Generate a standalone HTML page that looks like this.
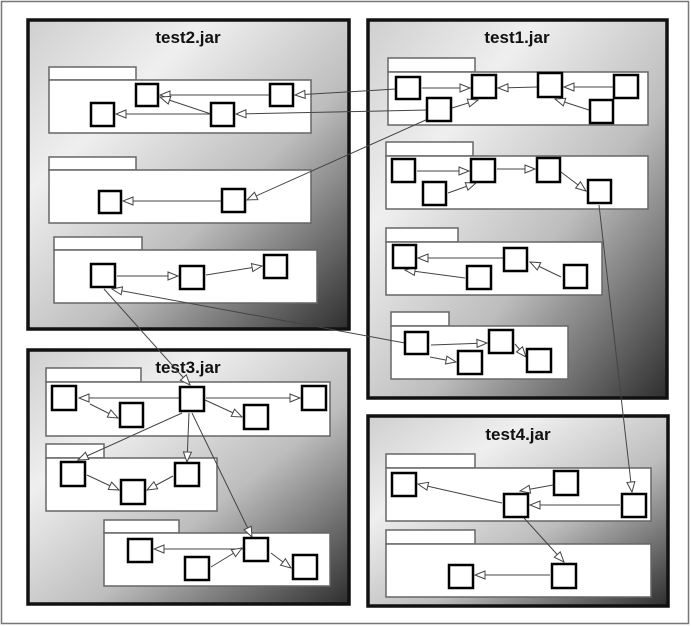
<!DOCTYPE html>
<html><head><meta charset="utf-8"><style>
html,body{margin:0;padding:0;background:#fff;width:691px;height:626px;overflow:hidden}
svg{display:block}
text{font-family:"Liberation Sans",sans-serif;font-weight:bold;font-size:17px;fill:#111}
</style></head><body>
<svg width="691" height="626" viewBox="0 0 691 626" xmlns="http://www.w3.org/2000/svg">
<defs>
<linearGradient id="g" x1="0" y1="0" x2="1" y2="1">
<stop offset="0" stop-color="#cfcfcf"/>
<stop offset="0.28" stop-color="#efefef"/>
<stop offset="0.6" stop-color="#bdbdbd"/>
<stop offset="1" stop-color="#2e2e2e"/>
</linearGradient>
<marker id="a" markerWidth="12" markerHeight="10" refX="11" refY="5" orient="auto" markerUnits="userSpaceOnUse">
<path d="M1,1 L11,5 L1,9 Z" fill="#fff" stroke="#444" stroke-width="1"/>
</marker>
</defs>
<rect x="1.5" y="1.5" width="687" height="622" fill="#fff" stroke="#777" stroke-width="1.5"/>
<g stroke="#111" stroke-width="3.5" fill="url(#g)">
<rect x="28" y="20" width="321" height="309"/>
<rect x="368" y="20" width="299" height="378"/>
<rect x="28" y="350" width="321" height="254"/>
<rect x="368" y="416" width="300" height="190"/>
</g>
<text x="188" y="43" text-anchor="middle">test2.jar</text>
<text x="517" y="43" text-anchor="middle">test1.jar</text>
<text x="188" y="373" text-anchor="middle">test3.jar</text>
<text x="518" y="440" text-anchor="middle">test4.jar</text>
<g fill="#fff" stroke="#666" stroke-width="1.5">
<rect x="49" y="67" width="87" height="13"/><rect x="49" y="80" width="262" height="53"/>
<rect x="49" y="157" width="87" height="13"/><rect x="49" y="170" width="262" height="53"/>
<rect x="54" y="237" width="88" height="13"/><rect x="54" y="250" width="263" height="53"/>
<rect x="388" y="58" width="87" height="14"/><rect x="388" y="72" width="260" height="53"/>
<rect x="386" y="142" width="87" height="14"/><rect x="386" y="156" width="262" height="53"/>
<rect x="386" y="228" width="72" height="14"/><rect x="386" y="242" width="216" height="53"/>
<rect x="391" y="312" width="58" height="14"/><rect x="391" y="326" width="177" height="53"/>
<rect x="46" y="368" width="95" height="14"/><rect x="46" y="382" width="284" height="54"/>
<rect x="46" y="444" width="58" height="14"/><rect x="46" y="458" width="171" height="53"/>
<rect x="104" y="520" width="75" height="13"/><rect x="104" y="533" width="226" height="53"/>
<rect x="386" y="454" width="89" height="14"/><rect x="386" y="468" width="265" height="53"/>
<rect x="386" y="530" width="89" height="14"/><rect x="386" y="544" width="265" height="53"/>
</g>
<g stroke="#444" stroke-width="1" fill="none" marker-end="url(#a)">
<line x1="270" y1="95" x2="160" y2="95"/>
<line x1="211" y1="114" x2="160" y2="97"/>
<line x1="211" y1="114" x2="116" y2="114"/>
<line x1="396" y1="89" x2="295" y2="95"/>
<line x1="427" y1="110" x2="236" y2="114"/>
<line x1="428" y1="119" x2="247" y2="200"/>
<line x1="222" y1="201" x2="123" y2="201"/>
<line x1="117" y1="276" x2="178" y2="276"/>
<line x1="206" y1="275" x2="262" y2="266"/>
<line x1="405" y1="343" x2="112" y2="289"/>
<line x1="104" y1="289" x2="190" y2="385"/>
<line x1="422" y1="88" x2="470" y2="88"/>
<line x1="452" y1="108" x2="478" y2="100"/>
<line x1="538" y1="87" x2="498" y2="88"/>
<line x1="614" y1="87" x2="564" y2="87"/>
<line x1="589" y1="110" x2="555" y2="99"/>
<line x1="417" y1="171" x2="469" y2="171"/>
<line x1="448" y1="193" x2="476" y2="183"/>
<line x1="497" y1="169" x2="535" y2="169"/>
<line x1="561" y1="172" x2="586" y2="191"/>
<line x1="599" y1="205" x2="632" y2="492"/>
<line x1="504" y1="258" x2="418" y2="258"/>
<line x1="465" y1="278" x2="405" y2="270"/>
<line x1="561" y1="277" x2="530" y2="262"/>
<line x1="431" y1="345" x2="487" y2="343"/>
<line x1="430" y1="357" x2="456" y2="362"/>
<line x1="515" y1="344" x2="526" y2="357"/>
<line x1="179" y1="398" x2="79" y2="398"/>
<line x1="90" y1="404" x2="118" y2="418"/>
<line x1="206" y1="398" x2="300" y2="398"/>
<line x1="205" y1="400" x2="242" y2="417"/>
<line x1="182" y1="413" x2="78" y2="460"/>
<line x1="189" y1="413" x2="187" y2="462"/>
<line x1="192" y1="413" x2="252" y2="537"/>
<line x1="87" y1="475" x2="119" y2="490"/>
<line x1="173" y1="476" x2="147" y2="490"/>
<line x1="244" y1="549" x2="154" y2="549"/>
<line x1="211" y1="567" x2="242" y2="548"/>
<line x1="271" y1="553" x2="291" y2="568"/>
<line x1="502" y1="503" x2="418" y2="484"/>
<line x1="553" y1="485" x2="520" y2="491"/>
<line x1="620" y1="505" x2="530" y2="505"/>
<line x1="524" y1="518" x2="564" y2="562"/>
<line x1="550" y1="575" x2="475" y2="575"/>
</g>
<g fill="#fff" stroke="#000" stroke-width="2.5">
<rect x="136" y="84" width="22" height="22"/><rect x="91" y="103" width="23" height="23"/>
<rect x="211" y="103" width="23" height="23"/><rect x="270" y="84" width="23" height="22"/>
<rect x="99" y="191" width="22" height="22"/><rect x="222" y="189" width="23" height="23"/>
<rect x="91" y="264" width="24" height="23"/><rect x="180" y="266" width="24" height="23"/>
<rect x="264" y="255" width="23" height="23"/>
<rect x="396" y="77" width="24" height="22"/><rect x="472" y="75" width="24" height="23"/>
<rect x="538" y="73" width="24" height="24"/><rect x="614" y="75" width="24" height="23"/>
<rect x="427" y="98" width="24" height="23"/><rect x="590" y="100" width="23" height="23"/>
<rect x="392" y="159" width="23" height="23"/><rect x="471" y="159" width="24" height="23"/>
<rect x="537" y="158" width="23" height="24"/><rect x="588" y="180" width="23" height="23"/>
<rect x="423" y="182" width="23" height="23"/>
<rect x="393" y="245" width="23" height="23"/><rect x="467" y="266" width="24" height="23"/>
<rect x="504" y="248" width="23" height="23"/><rect x="564" y="265" width="23" height="23"/>
<rect x="405" y="332" width="23" height="22"/><rect x="489" y="330" width="24" height="23"/>
<rect x="458" y="351" width="24" height="23"/><rect x="527" y="349" width="24" height="23"/>
<rect x="52" y="386" width="24" height="24"/><rect x="120" y="403" width="23" height="24"/>
<rect x="180" y="387" width="24" height="24"/><rect x="244" y="405" width="24" height="24"/>
<rect x="302" y="386" width="24" height="24"/>
<rect x="61" y="462" width="24" height="24"/><rect x="121" y="480" width="24" height="24"/>
<rect x="175" y="463" width="24" height="23"/>
<rect x="128" y="539" width="24" height="23"/><rect x="185" y="557" width="24" height="23"/>
<rect x="244" y="538" width="24" height="23"/><rect x="293" y="555" width="24" height="24"/>
<rect x="392" y="473" width="24" height="23"/><rect x="554" y="471" width="24" height="24"/>
<rect x="504" y="494" width="24" height="23"/><rect x="622" y="494" width="24" height="23"/>
<rect x="449" y="565" width="24" height="23"/><rect x="552" y="564" width="24" height="24"/>
</g>
</svg>
</body></html>
